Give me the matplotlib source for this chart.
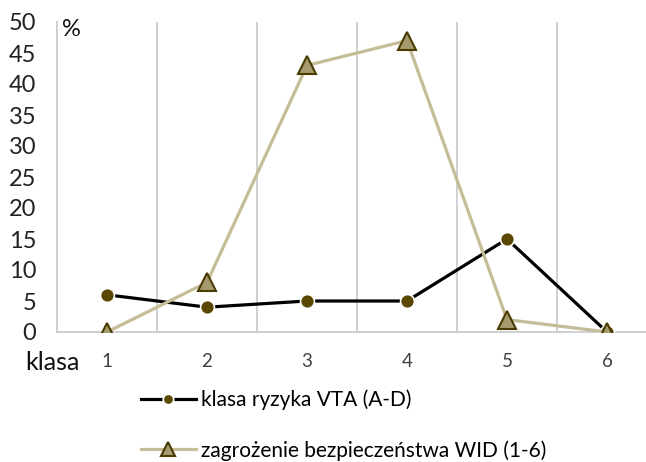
import matplotlib
matplotlib.use("Agg")
import matplotlib.pyplot as plt
from matplotlib.ticker import FixedLocator

categories = [1, 2, 3, 4, 5, 6]
vta = [6, 4, 5, 5, 15, 0]
wid = [0, 8, 43, 47, 2, 0]
yticks = [0, 5, 10, 15, 20, 25, 30, 35, 40, 45, 50]
label_vta = "klasa ryzyka VTA (A-D)"
label_wid = "zagrożenie bezpieczeństwa WID (1-6)"

plt.rcParams['font.family'] = ['Lato', 'DejaVu Sans']

fig = plt.figure(figsize=(6.46, 4.62), dpi=100)
ax = fig.add_axes([57/646, 1-332/462, 1-57/646, 310/462])

l1, = ax.plot(categories, vta, color='black', lw=2.3, marker='o', ms=10,
              mfc='#5a4700', mec='white', mew=1.2, zorder=3, label=label_vta)
l2, = ax.plot(categories, wid, color='#c4bd97', lw=2.3, marker='^', ms=12.5,
              mfc='#a39a6e', mec='#4a3b00', mew=1.5, zorder=4, label=label_wid)

ax.set_xlim(0.5, 0.5 + 589/100)
ax.set_ylim(0, 50)
ax.set_yticks(yticks)
ax.set_xticks(categories)
ax.xaxis.set_minor_locator(FixedLocator([1.5, 2.5, 3.5, 4.5, 5.5]))
ax.grid(which='minor', axis='x', color='#c8c8c8', lw=1.2)
ax.tick_params(which='both', length=0)
ax.tick_params(axis='y', labelsize=17, pad=15, colors='#222222')
ax.tick_params(axis='x', labelsize=13.5, pad=15, colors='#404040')
for s in ['top', 'right']:
    ax.spines[s].set_visible(False)
for s in ['left', 'bottom']:
    ax.spines[s].set_color('#c8c8c8')
    ax.spines[s].set_linewidth(1.2)

fig.text(62/646, 1-30/462, '%', fontsize=17, va='center', ha='left', color='#111111')
fig.text(25/646, 1-362/462, 'klasa', fontsize=18, va='center', ha='left', color='#111111')

fig.legend(handles=[l1, l2], loc='upper left', bbox_to_anchor=(122/646, 1-371/462),
           frameon=False, fontsize=15, labelspacing=1.42, handlelength=2.65,
           handletextpad=0.25, markerscale=0.75)

fig.savefig('out.png', dpi=100)
